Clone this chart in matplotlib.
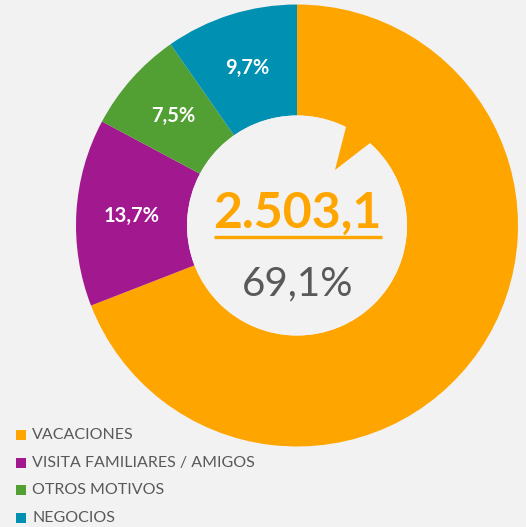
import math
import matplotlib
matplotlib.use("Agg")
import matplotlib.pyplot as plt
from matplotlib.patches import Rectangle, Polygon, Circle
from matplotlib.lines import Line2D

categories = ["VACACIONES", "VISITA FAMILIARES / AMIGOS", "OTROS MOTIVOS", "NEGOCIOS"]
values = [69.1, 13.7, 7.5, 9.7]
pct_labels = ["", "13,7%", "7,5%", "9,7%"]
colors = ["#FFA500", "#A2188F", "#52A033", "#0090B1"]
center_value = "2.503,1"
center_pct = "69,1%"

BG = "#F2F2F2"
W, H = 526, 527
fig = plt.figure(figsize=(W / 100, H / 100), dpi=100, facecolor=BG)
ax = fig.add_axes([0, 0, 1, 1])

cx, cy = 297, H - 225.5
R = 221
r_in = 110

wedges, _ = ax.pie(values, colors=colors, startangle=90, counterclock=False,
                   radius=R, center=(cx, cy), frame=True,
                   wedgeprops=dict(width=R - r_in, linewidth=0))
ax.set_xlim(0, W)
ax.set_ylim(0, H)
ax.set_aspect("auto")
ax.axis("off")
ax.set_facecolor(BG)

# percentage labels
cum = 0
mid_r = (R + r_in) / 2
for v, lab in zip(values, pct_labels):
    mid = cum + v / 2
    cum += v
    if not lab:
        continue
    ang = math.radians(90 - mid * 3.6)
    ax.text(cx + mid_r * math.cos(ang), cy + mid_r * math.sin(ang), lab,
            ha="center", va="center", color="white", fontsize=14.5,
            fontweight="bold", family="Lato")

# center circle with orange spike pointing inwards
ax.add_patch(Circle((cx, cy), r_in, facecolor=BG, edgecolor="none", zorder=3))
A = (346, H - 127)
T = (335, H - 170)
B = (370, H - 143)
def out(p, k=1.12):
    return (cx + (p[0] - cx) * k, cy + (p[1] - cy) * k)
ax.add_patch(Polygon([T, B, out(B), out(A), A], closed=True,
                     facecolor=colors[0], edgecolor="none", zorder=3.5))

t1 = ax.text(cx, H - 213, center_value, ha="center", va="center",
             color=colors[0], fontsize=36, fontweight="bold", family="Lato", zorder=4)
ax.text(cx + 1, H - 284, center_pct, ha="center", va="center",
        color="#595959", fontsize=29, family="Lato", zorder=4)

fig.canvas.draw()
bb = t1.get_window_extent()
ax.add_line(Line2D([bb.x0 + 1, bb.x1 + 1], [H - 237, H - 237], color=colors[0],
                   linewidth=2.4, solid_capstyle="butt", zorder=4))

# legend
y0 = H - 435
for i, (c, col) in enumerate(zip(categories, colors)):
    y = y0 - i * 27.5
    ax.add_patch(Rectangle((16, y - 5), 10, 10, facecolor=col, edgecolor="none"))
    ax.text(32, y, c, ha="left", va="center", color="#595959",
            fontsize=11.5, family="Lato")

fig.savefig("out.png", dpi=100, facecolor=BG)
